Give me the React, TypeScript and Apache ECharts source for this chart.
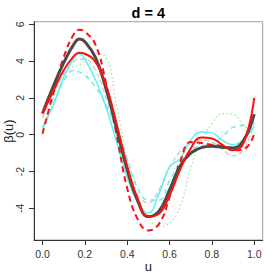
import React, { useEffect, useRef } from "react";
import * as echarts from "echarts";

// grid of u values shared by every curve
const U = [0, 0.05, 0.1, 0.15, 0.175, 0.2, 0.25, 0.3, 0.35, 0.4, 0.45, 0.5, 0.55, 0.6, 0.65, 0.7, 0.75, 0.8, 0.85, 0.9, 0.95, 1.0];

const TRUE_BETA = [1.15, 2.6, 3.9, 4.95, 5.2, 5.05, 4.2, 2.5, 0.35, -1.9, -3.6, -4.45, -4.15, -3.0, -1.7, -1.0, -0.7, -0.62, -0.68, -0.72, -0.3, 1.12];
const RED_SOLID = [1.15, 2.35, 3.5, 4.3, 4.45, 4.4, 3.95, 2.7, 0.6, -1.7, -3.5, -4.45, -4.3, -3.3, -1.9, -0.75, -0.15, -0.2, -0.55, -0.85, -0.45, 2.0];
const RED_DASHED = [0.05, 2.2, 4.2, 5.5, 5.7, 5.6, 4.9, 2.8, 0.0, -2.9, -4.6, -5.2, -4.85, -3.4, -1.5, -0.4, -0.45, -0.55, -0.6, -0.85, -0.8, 0.05];
const CYAN_SOLID = [0.4, 1.6, 3.1, 4.2, 4.4, 4.1, 3.0, 1.5, -0.4, -2.3, -3.7, -4.25, -3.2, -1.75, -1.3, -0.3, 0.15, 0.1, -0.3, -0.55, -0.25, 0.45];
const CYAN_DASHED = [0.3, 1.6, 2.9, 3.5, 3.4, 3.25, 2.6, 1.6, 0.3, -1.3, -2.9, -3.55, -3.55, -2.5, -1.5, -0.85, -0.6, -0.55, -0.1, 0.4, 0.5, 0.3];
const GREEN_DOTTED = [0.3, 1.9, 3.5, 3.7, 3.8, 4.0, 4.4, 4.2, 1.6, -1.3, -3.3, -4.5, -4.95, -4.8, -3.9, -1.8, -0.3, 0.6, 1.15, 1.1, 0.5, 0.0];
const GRAY_DASHED = [0.9, 2.2, 3.3, 4.0, 4.1, 4.1, 3.5, 2.0, 0.0, -2.0, -3.3, -3.7, -3.0, -1.8, -0.9, -0.5, -0.3, -0.4, -0.8, -1.15, -0.8, 0.7];

const X_TICKS = [0, 0.2, 0.4, 0.6, 0.8, 1.0];
const Y_TICKS = [-4, -2, 0, 2, 4, 6];
const TITLE = "d = 4";
const X_NAME = "u";
const Y_NAME = "β(u)";

const FONT = "'Liberation Sans', Arial, Helvetica, sans-serif";

function pairs(vals: number[]) {
  return U.map((u, i) => [u, vals[i]]);
}

export default function App() {
  const ref = useRef<HTMLDivElement>(null);
  useEffect(() => {
    if (!ref.current) return;
    const chart = echarts.init(ref.current, null, { renderer: "svg" });
    const mk = (name: string, vals: number[], color: string, width: number, type: any) => ({
      name,
      type: "line",
      data: pairs(vals),
      smooth: 0.45,
      showSymbol: false,
      symbol: "none",
      lineStyle: { color, width, type, cap: "butt" },
      emphasis: { disabled: true },
      z: 2,
    });
    chart.setOption({
      animation: false,
      grid: {
        left: 34,
        right: 10.3,
        top: 21.7,
        bottom: 33,
        show: true,
        borderColor: "#a0a0a0",
        borderWidth: 1,
        containLabel: false,
        outerBoundsMode: "none",
      },
      xAxis: {
        type: "value",
        min: -0.04,
        max: 1.04,
        splitLine: { show: false },
        axisLine: { show: true, onZero: false, lineStyle: { color: "#333", width: 1 } },
        axisTick: { show: true, length: 5, customValues: X_TICKS, lineStyle: { color: "#333" } },
        axisLabel: {
          customValues: X_TICKS,
          formatter: (v: number) => v.toFixed(1),
          fontSize: 10.5,
          fontFamily: FONT,
          color: "#333",
          margin: 8,
        },
      },
      yAxis: {
        type: "value",
        min: -5.72,
        max: 6.14,
        splitLine: { show: false },
        axisLine: { show: true, onZero: false, lineStyle: { color: "#333", width: 1 } },
        axisTick: { show: true, length: 5, customValues: Y_TICKS, lineStyle: { color: "#333" } },
        axisLabel: {
          customValues: Y_TICKS,
          formatter: (v: number) => String(v),
          rotate: 90,
          fontSize: 10.5,
          fontFamily: FONT,
          color: "#333",
          margin: 8.5,
        },
      },
      graphic: [
        {
          type: "text",
          x: 148.3,
          y: 12.5,
          style: { text: TITLE, font: `bold 14.5px ${FONT}`, fill: "#000", textAlign: "center", textVerticalAlign: "middle" },
        },
        {
          type: "text",
          x: 148.3,
          y: 266.5,
          style: { text: X_NAME, font: `13px ${FONT}`, fill: "#222", textAlign: "center", textVerticalAlign: "middle" },
        },
        {
          type: "text",
          x: 8,
          y: 131,
          rotation: Math.PI / 2,
          style: { text: Y_NAME, font: `13px ${FONT}`, fill: "#222", textAlign: "center", textVerticalAlign: "middle" },
        },
      ],
      series: [
        mk("gray", GRAY_DASHED, "#cdcdcd", 1.4, [5, 3]),
        mk("green", GREEN_DOTTED, "#8cf08c", 1.2, [1.5, 2.5]),
        mk("cyanDashed", CYAN_DASHED, "#5ef0f0", 1.5, [5, 4]),
        mk("cyanSolid", CYAN_SOLID, "#5ef0f0", 1.5, "solid"),
        mk("redDashed", RED_DASHED, "#ff1010", 2, [6, 4]),
        mk("truth", TRUE_BETA, "#4a4a4a", 3, "solid"),
        mk("redSolid", RED_SOLID, "#ff1010", 2, "solid"),
      ],
    });
    return () => chart.dispose();
  }, []);
  return <div ref={ref} style={{ position: "fixed", left: 0, top: 0, width: 273, height: 273, background: "#fff" }} />;
}
